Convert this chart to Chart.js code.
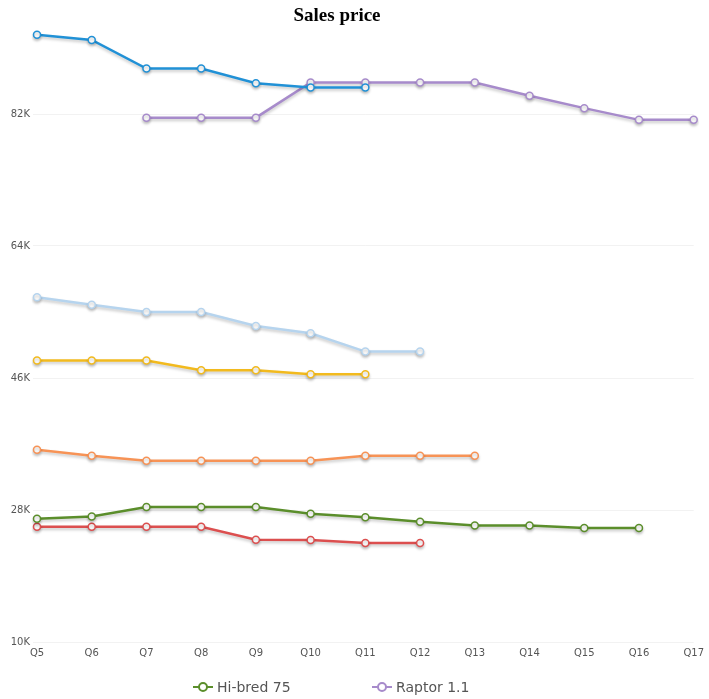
<!DOCTYPE html>
<html>
<head>
<meta charset="utf-8">
<script src="https://cdn.jsdelivr.net/npm/chart.js@4/dist/chart.umd.min.js"></script>
<style>
  html, body { margin: 0; padding: 0; background: #fff; }
  #wrap { position: relative; width: 709px; height: 699px; }
  #chart { position: absolute; left: 0; top: 0; }
  #title {
    position: absolute; left: 0; top: 4px; width: 674px; text-align: center;
    font: bold 19px "Liberation Serif", "Times New Roman", serif; color: #000;
  }
  #legend {
    position: absolute; top: 679px; left: 0; width: 709px; height: 20px;
    font: 14px "DejaVu Sans", Verdana, sans-serif; color: #555;
  }
  .item { position: absolute; top: 0; display: flex; align-items: center; white-space: nowrap; }
  .item svg { margin-right: 4px; }
</style>
</head>
<body>
<div id="wrap">
  <canvas id="chart" width="709" height="699"></canvas>
  <div id="title">Sales price</div>
  <div id="legend"></div>
</div>
<script>
// Quarters along the x axis
const quarters = ['Q5','Q6','Q7','Q8','Q9','Q10','Q11','Q12','Q13','Q14','Q15','Q16','Q17'];

// Sales price per quarter for each model (null = no sales that quarter)
const premiumX = [92800, 92100, 88200, 88200, 86200, 85600, 85600, null, null, null, null, null, null];
const raptor11 = [null, null, 81500, 81500, 81500, 86300, 86300, 86300, 86300, 84500, 82800, 81200, 81200];
const fieldPro = [57000, 56000, 55000, 55000, 53100, 52100, 49600, 49600, null, null, null, null, null];
const harvestS = [48400, 48400, 48400, 47050, 47050, 46500, 46500, null, null, null, null, null, null];
const compactT = [36200, 35400, 34700, 34700, 34700, 34700, 35400, 35400, 35400, null, null, null, null];
const hiBred75 = [26800, 27100, 28400, 28400, 28400, 27500, 27000, 26400, 25900, 25900, 25550, 25550, null];
const basicL   = [25700, 25700, 25700, 25700, 23950, 23900, 23500, 23500, null, null, null, null, null];

// Y axis ticks
const yTicks = [10000, 28000, 46000, 64000, 82000];
const yMin = 10000, yMax = 94000;

// Entries shown in the legend
const legendNames = ['Hi-bred 75', 'Raptor 1.1'];

function series(label, data, color) {
  return {
    label, data,
    borderColor: color,
    backgroundColor: color,
    borderWidth: 2.5,
    pointRadius: 3.5,
    pointHoverRadius: 4,
    pointBackgroundColor: '#fff',
    pointBorderColor: color,
    pointBorderWidth: 1.5,
    tension: 0,
    spanGaps: false
  };
}

const datasets = [
  series('Premium X', premiumX, '#2191d6'),
  series('Raptor 1.1', raptor11, '#a78bcb'),
  series('Field Pro', fieldPro, '#b6d4ee'),
  series('Harvest S', harvestS, '#f2ba1e'),
  series('Compact T', compactT, '#f79356'),
  series('Hi-bred 75', hiBred75, '#5b8e2b'),
  series('Basic L', basicL, '#dc4f4f')
];

// Soft drop shadow under each line
const lineShadow = {
  id: 'lineShadow',
  beforeDatasetDraw(chart) {
    const ctx = chart.ctx;
    ctx.save();
    ctx.shadowColor = 'rgba(0,0,0,0.22)';
    ctx.shadowBlur = 3;
    ctx.shadowOffsetX = 0;
    ctx.shadowOffsetY = 2;
  },
  afterDatasetDraw(chart) {
    chart.ctx.restore();
  }
};

const font = { family: '"DejaVu Sans", Verdana, sans-serif', size: 10 };

const chart = new Chart(document.getElementById('chart'), {
  type: 'line',
  data: { labels: quarters, datasets },
  plugins: [lineShadow],
  options: {
    responsive: false,
    animation: false,
    layout: { padding: { top: 26, right: 14, bottom: 40, left: 0 } },
    plugins: {
      legend: { display: false },
      title: { display: false },
      tooltip: { enabled: false }
    },
    scales: {
      x: {
        offset: false,
        grid: { display: false, drawTicks: false },
        border: { display: false },
        ticks: { color: '#555', font, padding: 5, maxRotation: 0, autoSkip: false },
        afterFit(scale) { scale.height = 17; }
      },
      y: {
        min: yMin,
        max: yMax,
        grid: { color: '#f2f2f2', lineWidth: 1, drawTicks: true, tickLength: 4, tickColor: '#f2f2f2' },
        border: { display: false },
        ticks: {
          stepSize: 18000,
          color: '#555',
          font,
          padding: 3,
          callback: v => (v / 1000) + 'K'
        },
        afterBuildTicks(scale) {
          scale.ticks = yTicks.map(v => ({ value: v }));
        },
        afterFit(scale) { scale.width = 37; }
      }
    }
  }
});

// Legend with line-and-circle markers
const legend = document.getElementById('legend');
const legendX = [193, 372];
legendNames.forEach((name, i) => {
  const ds = datasets.find(d => d.label === name);
  const item = document.createElement('div');
  item.className = 'item';
  item.style.left = legendX[i] + 'px';
  item.innerHTML =
    '<svg width="20" height="12" viewBox="0 0 20 12">' +
    '<line x1="0" y1="6" x2="20" y2="6" stroke="' + ds.borderColor + '" stroke-width="2"/>' +
    '<circle cx="10" cy="6" r="4" fill="#fff" stroke="' + ds.borderColor + '" stroke-width="2"/>' +
    '</svg><span>' + name + '</span>';
  legend.appendChild(item);
});
</script>
</body>
</html>
